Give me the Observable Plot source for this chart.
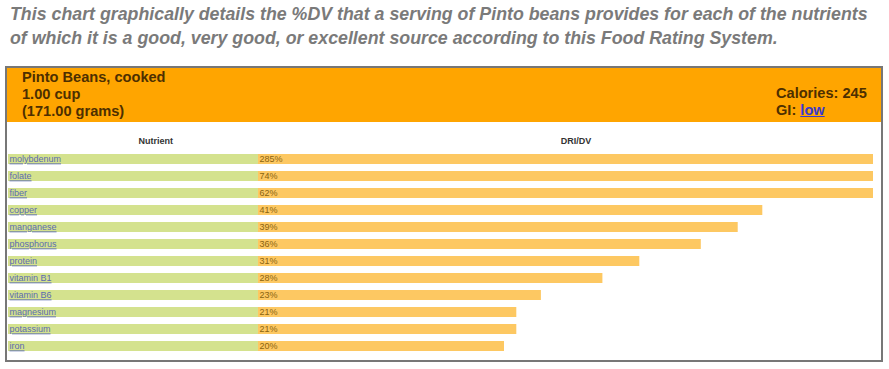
<!DOCTYPE html>
<html>
<head>
<meta charset="utf-8">
<script src="https://cdn.jsdelivr.net/npm/d3@7"></script>
<script src="https://cdn.jsdelivr.net/npm/@observablehq/plot@0.6"></script>
<style>
  html, body { margin: 0; padding: 0; background: #fff; }
  body { width: 889px; height: 369px; position: relative; overflow: hidden; font-family: "Liberation Sans", Arial, sans-serif; }
  #caption { position: absolute; left: 10px; top: 2px; font-family: "Liberation Sans", sans-serif; font-style: italic; font-weight: bold; font-size: 17.8px; letter-spacing: 0px; line-height: 24px; color: #7a7a7a; white-space: nowrap; }
  #box { position: absolute; left: 5px; top: 66px; width: 874px; height: 292px; border: 2px solid #777; background: #fff; }
  #header { position: absolute; left: 0; top: 0; width: 874px; height: 54px; background: #ffa500; color: #4d2f00; font-weight: bold; font-size: 14.6px; }
  #hleft { position: absolute; left: 15px; top: 1px; line-height: 17px; }
  #hright { position: absolute; left: 769px; top: 17px; line-height: 16.5px; }
  #hright a { color: #3a3acc; text-decoration: underline; }
  #chart { position: absolute; left: 0; top: 54px; line-height: 0; }
  #chart svg { display: block; }
</style>
</head>
<body>
<div id="caption">This chart graphically details the %DV that a serving of Pinto beans provides for each of the nutrients<br>of which it is a good, very good, or excellent source according to this Food Rating System.</div>
<div id="box">
  <div id="header">
    <div id="hleft">Pinto Beans, cooked<br>1.00 cup<br>(171.00 grams)</div>
    <div id="hright">Calories: 245<br>GI: <a>low</a></div>
  </div>
  <div id="chart"></div>
</div>
<script>
const nutrients = ["molybdenum","folate","fiber","copper","manganese","phosphorus","protein","vitamin B1","vitamin B6","magnesium","potassium","iron"];
const dvPercent = [285, 74, 62, 41, 39, 36, 31, 28, 23, 21, 21, 20];
const columnHeaders = ["Nutrient", "DRI/DV"];

const data = nutrients.map((n, i) => ({nutrient: n, value: dvPercent[i]}));

const plot = Plot.plot({
  width: 874,
  height: 238,
  marginLeft: 251,
  marginRight: 8,
  marginTop: 25.5,
  marginBottom: 1.5,
  style: {background: "transparent", fontFamily: "Liberation Sans, Arial, sans-serif"},
  x: {domain: [0, 50], clamp: true, axis: null},
  y: {domain: nutrients, paddingInner: 0.39, paddingOuter: 0.195, axis: null},
  marks: [
    // nutrient column (green cell)
    Plot.barX(data, {y: "nutrient", x1: 0, x2: 0, insetLeft: -250, fill: "#d4e28e"}),
    // DRI/DV bars
    Plot.barX(data, {y: "nutrient", x1: 0, x2: "value", fill: "#fdc862"}),
    Plot.text(data, {y: "nutrient", x: 0, dx: -249, text: "nutrient", textAnchor: "start", fill: "#5b6bb0", fontSize: 9, ariaDescription: "nutrient-links"}),
    Plot.text(data, {y: "nutrient", x: 0, dx: 1, text: d => d.value + "%", textAnchor: "start", fill: "#8a6410", fontSize: 9}),
    Plot.text([columnHeaders[0]], {frameAnchor: "top-left", text: d => d, dx: -120, dy: -10.5, fontSize: 9, fontWeight: "bold", fill: "#333"}),
    Plot.text([columnHeaders[1]], {frameAnchor: "top", text: d => d, dx: 10, dy: -10.5, fontSize: 9, fontWeight: "bold", fill: "#333"})
  ]
});
d3.select(plot).select('g[aria-description="nutrient-links"]').style("text-decoration", "underline");
document.getElementById("chart").appendChild(plot);
</script>
</body>
</html>
